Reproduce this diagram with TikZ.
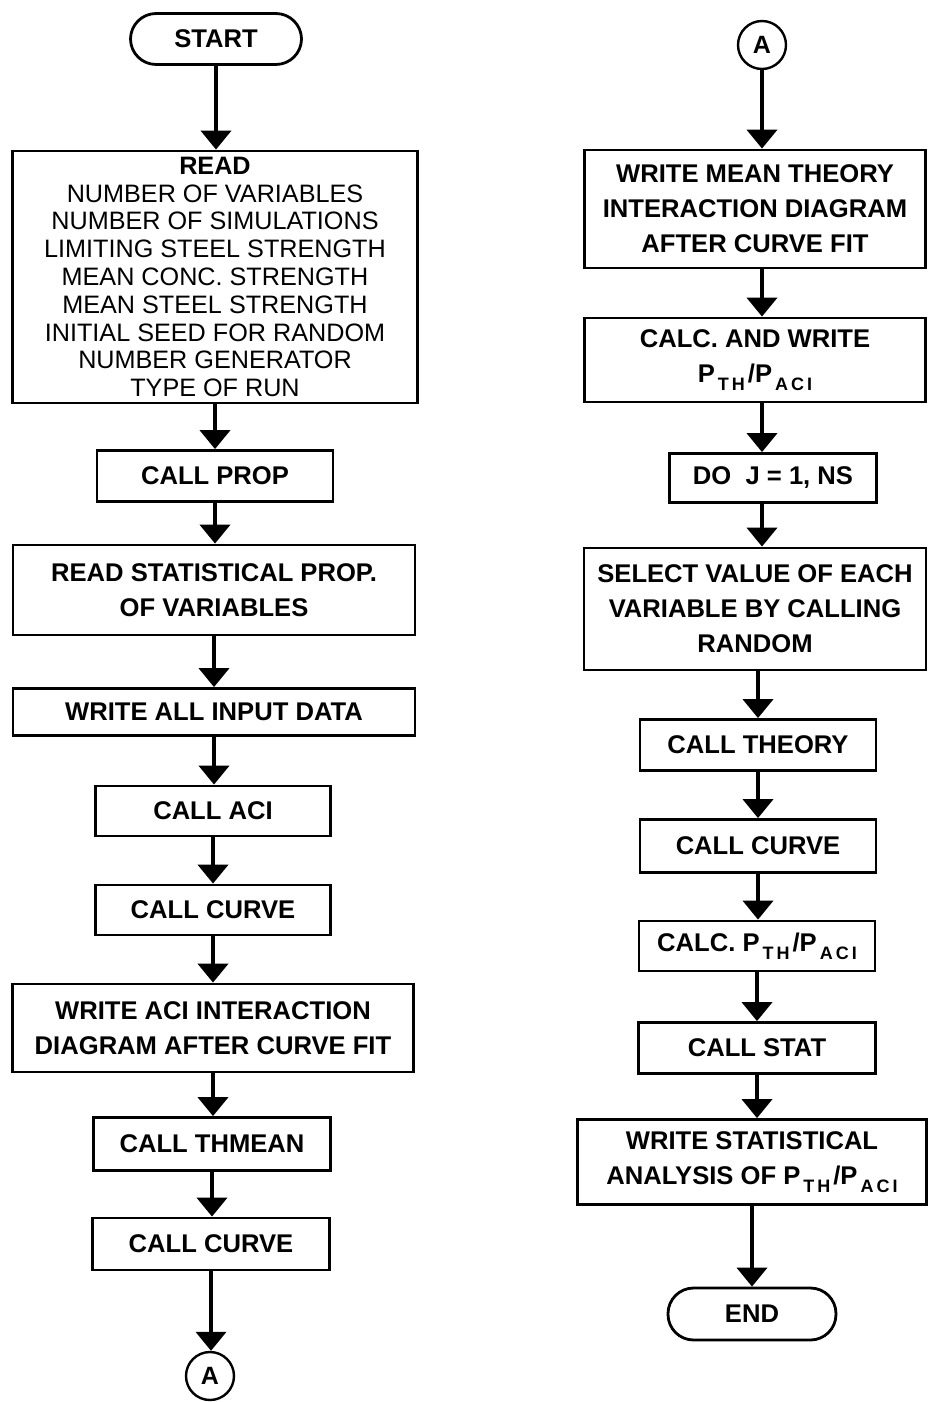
\documentclass[tikz,border=0pt]{standalone}
\usepackage{fontspec}
\setmainfont{Liberation Sans}
\usetikzlibrary{arrows.meta}
\newcommand{\pratio}{P\raisebox{-0.6ex}{\fontsize{9}{9}\selectfont\,T\,H\,}/P\raisebox{-0.6ex}{\fontsize{9}{9}\selectfont\,A\,C\,I}}
\begin{document}
\begin{tikzpicture}[x=0.5pt,y=-0.5pt,
  box/.style={draw, line width=1.4pt, align=center, inner sep=0pt,
    font=\fontsize{12.8}{17.5}\selectfont\bfseries},
  terminal/.style={box, rounded corners=12.8pt},
  connector/.style={draw, circle, line width=1.2pt, minimum size=24pt, inner sep=0pt,
    font=\fontsize{12.5}{14}\selectfont\bfseries},
  flow/.style={line width=2pt, -{Triangle[length=9.5pt,width=15pt]}}]
\useasboundingbox (0,0) rectangle (927,1402);
	%Coluna esquerda
	\node[terminal, minimum width=85.5pt, minimum height=25.5pt] (start) at (216,39) {START};
	\node[box, minimum width=202.5pt, minimum height=126pt,
	      font=\fontsize{12.6}{13.9}\selectfont] (read) at (215,277)
	      {\textbf{READ}\\NUMBER OF VARIABLES\\NUMBER OF SIMULATIONS\\LIMITING STEEL STRENGTH\\
	       MEAN CONC. STRENGTH\\MEAN STEEL STRENGTH\\INITIAL SEED FOR RANDOM\\
	       NUMBER GENERATOR\\TYPE OF RUN};
	\node[box, minimum width=118pt, minimum height=25.5pt] (prop) at (215,476) {CALL PROP};
	\node[box, minimum width=201pt, minimum height=45pt] (statprop) at (214,590)
	      {READ STATISTICAL PROP.\\OF VARIABLES};
	\node[box, minimum width=201pt, minimum height=23.5pt] (input) at (214,712) {WRITE ALL INPUT DATA};
	\node[box, minimum width=117.5pt, minimum height=25pt] (aci) at (213,811) {CALL ACI};
	\node[box, minimum width=117.5pt, minimum height=25pt] (curveA) at (213,910) {CALL CURVE};
	\node[box, minimum width=200.5pt, minimum height=44pt] (aciwrite) at (213,1028)
	      {WRITE ACI INTERACTION\\DIAGRAM AFTER CURVE FIT};
	\node[box, minimum width=118.5pt, minimum height=26.5pt] (thmean) at (212,1144) {CALL THMEAN};
	\node[box, minimum width=118.5pt, minimum height=26pt] (curveB) at (211,1244) {CALL CURVE};
	\node[connector] (conA) at (210,1376) {A};
	%Setas coluna esquerda
	\draw[flow] (start.south) -- (start.south |- read.north);
	\draw[flow] (read.south) -- (read.south |- prop.north);
	\draw[flow] (prop.south) -- (prop.south |- statprop.north);
	\draw[flow] (statprop.south) -- (statprop.south |- input.north);
	\draw[flow] (input.south) -- (input.south |- aci.north);
	\draw[flow] (aci.south) -- (aci.south |- curveA.north);
	\draw[flow] (curveA.south) -- (curveA.south |- aciwrite.north);
	\draw[flow] (aciwrite.south) -- (aciwrite.south |- thmean.north);
	\draw[flow] (thmean.south) -- (thmean.south |- curveB.north);
	\draw[flow] (curveB.south) -- (curveB.south |- conA.north);
	%Coluna direita
	\node[connector] (conB) at (762,45) {A};
	\node[box, minimum width=170.5pt, minimum height=59pt] (meanth) at (755,209)
	      {WRITE MEAN THEORY\\INTERACTION DIAGRAM\\AFTER CURVE FIT};
	\node[box, minimum width=170.5pt, minimum height=42pt] (calcw) at (755,360)
	      {CALC. AND WRITE\\\pratio};
	\node[box, minimum width=103.5pt, minimum height=24.5pt] (doj) at (773,478) {DO\ \ J = 1, NS};
	\node[box, minimum width=171pt, minimum height=61pt] (select) at (755,609)
	      {SELECT VALUE OF EACH\\VARIABLE BY CALLING\\RANDOM};
	\node[box, minimum width=118pt, minimum height=25.5pt] (theory) at (758,745) {CALL THEORY};
	\node[box, minimum width=118pt, minimum height=26.5pt] (curveC) at (758,846) {CALL CURVE};
	\node[box, minimum width=118pt, minimum height=25pt] (calcr) at (757,946) {CALC. \pratio};
	\node[box, minimum width=118.5pt, minimum height=25.5pt] (callstat) at (757,1048) {CALL STAT};
	\node[box, minimum width=174.5pt, minimum height=42.5pt] (writestat) at (752,1162)
	      {WRITE STATISTICAL\\ANALYSIS OF \pratio};
	\node[terminal, minimum width=84pt, minimum height=26pt] (finish) at (752,1314) {END};
	%Setas coluna direita
	\draw[flow] (conB.south) -- (conB.south |- meanth.north);
	\draw[flow] (conB.south |- meanth.south) -- (conB.south |- calcw.north);
	\draw[flow] (conB.south |- calcw.south) -- (conB.south |- doj.north);
	\draw[flow] (conB.south |- doj.south) -- (conB.south |- select.north);
	\draw[flow] (select.south -| theory.north) -- (theory.north);
	\draw[flow] (theory.south) -- (theory.south |- curveC.north);
	\draw[flow] (curveC.south) -- (curveC.south |- calcr.north);
	\draw[flow] (calcr.south) -- (calcr.south |- callstat.north);
	\draw[flow] (callstat.south) -- (callstat.south |- writestat.north);
	\draw[flow] (writestat.south) -- (writestat.south |- finish.north);
\end{tikzpicture}
\end{document}
